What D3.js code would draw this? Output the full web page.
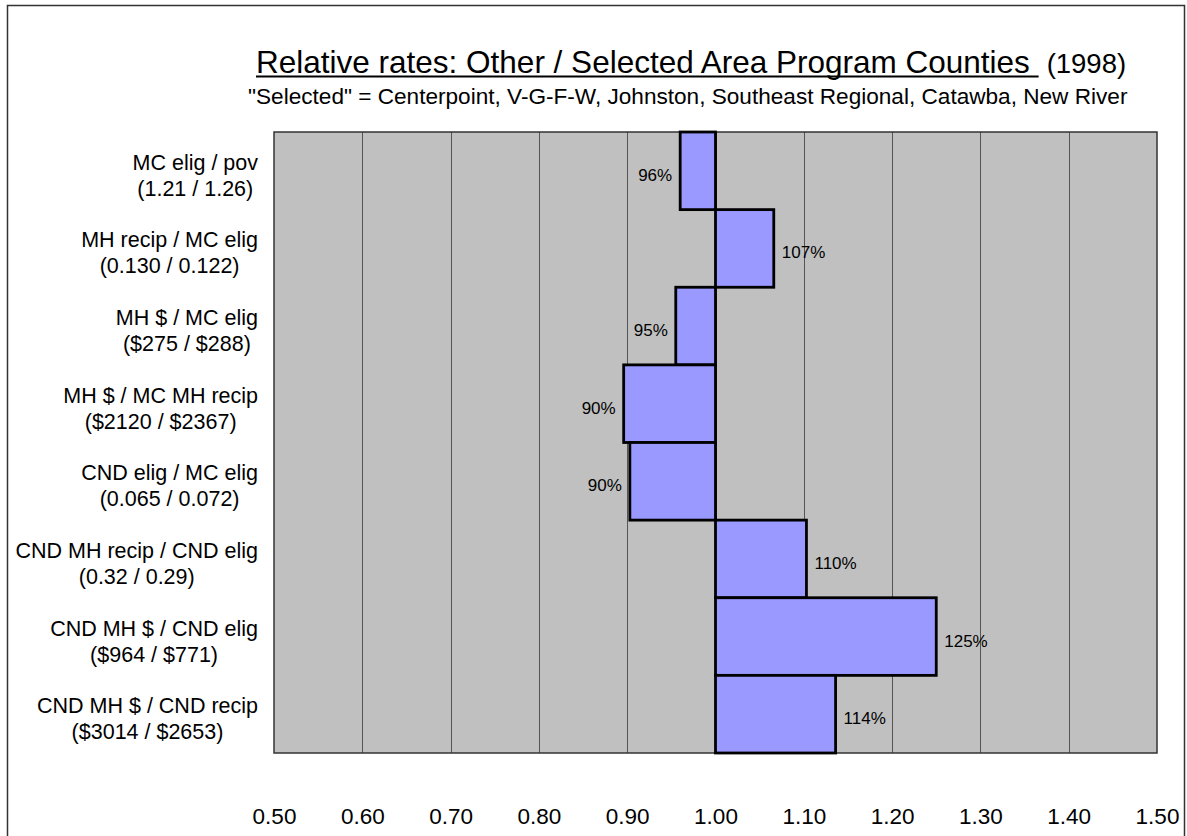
<!DOCTYPE html>
<html>
<head>
<meta charset="utf-8">
<script src="https://cdn.jsdelivr.net/npm/d3@7"></script>
<style>
  html, body { margin: 0; padding: 0; background: #fff; }
  svg { display: block; font-family: "Liberation Sans", Arial, sans-serif; }
</style>
</head>
<body>
<svg id="chart" width="1187" height="836"></svg>
<script>
// Ratio of the rate in other counties to the rate in the selected area programs
const categories = [
  ["MC elig / pov", "(1.21 / 1.26)"],
  ["MH recip / MC elig", "(0.130 / 0.122)"],
  ["MH $ / MC elig", "($275 / $288)"],
  ["MH $ / MC MH recip", "($2120 / $2367)"],
  ["CND elig / MC elig", "(0.065 / 0.072)"],
  ["CND MH recip / CND elig", "(0.32 / 0.29)"],
  ["CND MH $ / CND elig", "($964 / $771)"],
  ["CND MH $ / CND recip", "($3014 / $2653)"]
];
const ratios = [0.960, 1.066, 0.955, 0.896, 0.903, 1.103, 1.250, 1.136];
const pctLabels = ["96%", "107%", "95%", "90%", "90%", "110%", "125%", "114%"];
const xTicks = [0.5, 0.6, 0.7, 0.8, 0.9, 1.0, 1.1, 1.2, 1.3, 1.4, 1.5];
const baseline = 1.0;

const titleMain = "Relative rates: Other / Selected Area Program Counties ";
const titleYear = "(1998)";
const subtitle = "\"Selected\" = Centerpoint, V-G-F-W, Johnston, Southeast Regional, Catawba, New River";

const svg = d3.select("#chart");
const plot = { left: 274, right: 1157, top: 132, bottom: 753 };

// outer frame
svg.append("rect")
  .attr("x", 7.5).attr("y", 5.5)
  .attr("width", 1177).attr("height", 860)
  .attr("fill", "none").attr("stroke", "#333").attr("stroke-width", 1.5);

const x = d3.scaleLinear().domain([0.5, 1.5]).range([plot.left, plot.right]);
const y = d3.scaleBand().domain(d3.range(categories.length))
  .range([plot.top, plot.bottom]).paddingInner(0).paddingOuter(0);

// plot background
svg.append("rect")
  .attr("x", plot.left).attr("y", plot.top)
  .attr("width", plot.right - plot.left).attr("height", plot.bottom - plot.top)
  .attr("fill", "#c0c0c0");

// vertical gridlines
svg.append("g")
  .selectAll("line")
  .data(xTicks.slice(1, -1))
  .join("line")
  .attr("x1", d => Math.round(x(d)) + 0.5).attr("x2", d => Math.round(x(d)) + 0.5)
  .attr("y1", plot.top).attr("y2", plot.bottom)
  .attr("stroke", "#555").attr("stroke-width", 1);

// plot border
svg.append("rect")
  .attr("x", plot.left).attr("y", plot.top)
  .attr("width", plot.right - plot.left).attr("height", plot.bottom - plot.top)
  .attr("fill", "none").attr("stroke", "#333").attr("stroke-width", 1.5);

// bars, drawn from the 1.00 baseline
svg.append("g")
  .selectAll("rect")
  .data(ratios)
  .join("rect")
  .attr("x", d => x(Math.min(d, baseline)))
  .attr("y", (d, i) => y(i))
  .attr("width", d => Math.abs(x(d) - x(baseline)))
  .attr("height", y.bandwidth())
  .attr("fill", "#9999ff")
  .attr("stroke", "#000").attr("stroke-width", 2.8);

// value labels at the outer end of each bar
svg.append("g")
  .selectAll("text")
  .data(ratios)
  .join("text")
  .attr("x", d => d < baseline ? x(d) - 8 : x(d) + 8)
  .attr("y", (d, i) => y(i) + y.bandwidth() / 2 + 10)
  .attr("text-anchor", d => d < baseline ? "end" : "start")
  .attr("font-size", 17)
  .attr("fill", "#000")
  .text((d, i) => pctLabels[i]);

// category labels: two centred lines, right-aligned as a block
const catG = svg.append("g");
categories.forEach((lines, i) => {
  const cy = y(i) + y.bandwidth() / 2;
  const t = catG.append("text").attr("font-size", 21.5).attr("fill", "#000").attr("text-anchor", "middle");
  const spans = lines.map((s, k) => t.append("tspan").attr("y", cy - 1 + k * 26).text(s));
  const w = d3.max(spans, s => s.node().getComputedTextLength());
  const cx = 258 - w / 2;
  spans.forEach(s => s.attr("x", cx));
});

// x-axis tick labels
const xAxis = d3.axisBottom(x).tickValues(xTicks).tickFormat(d3.format(".2f")).tickSize(0).tickPadding(0);
const axisG = svg.append("g").attr("transform", `translate(0, ${plot.bottom})`).call(xAxis);
axisG.select(".domain").remove();
axisG.selectAll("text")
  .attr("font-size", 22.5)
  .attr("font-family", "\"Liberation Sans\", Arial, sans-serif")
  .attr("fill", "#000")
  .attr("dy", null)
  .attr("y", 71);

// title with underlined main part
const titleX = 256, titleY = 73;
const tMain = svg.append("text")
  .attr("x", titleX).attr("y", titleY)
  .attr("font-size", 31.5).attr("fill", "#000")
  .style("white-space", "pre")
  .text(titleMain);
const mainLen = tMain.node().getComputedTextLength();
svg.append("line")
  .attr("x1", titleX).attr("x2", titleX + mainLen)
  .attr("y1", titleY + 3.5).attr("y2", titleY + 3.5)
  .attr("stroke", "#000").attr("stroke-width", 2);
svg.append("text")
  .attr("x", titleX + mainLen + 8).attr("y", titleY)
  .attr("font-size", 27.5).attr("fill", "#000")
  .text(titleYear);

svg.append("text")
  .attr("x", 248).attr("y", 104)
  .attr("font-size", 22.6).attr("fill", "#000")
  .text(subtitle);
</script>
</body>
</html>
